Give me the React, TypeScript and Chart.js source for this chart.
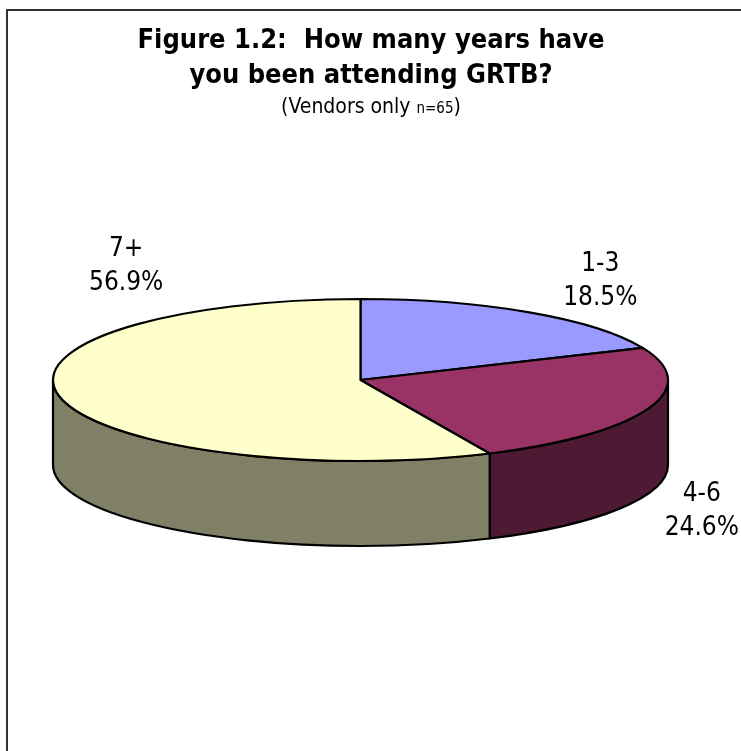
import React, { useEffect, useRef } from "react";
import { Chart, registerables } from "chart.js";

Chart.register(...registerables);

// ---- data ----
const categories = ["1-3", "4-6", "7+"];
const percents = [18.5, 24.6, 56.9];
const topColors = ["#9999FF", "#993366", "#FFFFCC"];
const sideColors = ["#4D4D80", "#4D1933", "#808066"];
const titleLines = ["Figure 1.2:  How many years have", "you been attending GRTB?"];
const subtitleMain = "(Vendors only ";
const subtitleSmall = "n=65";
const subtitleEnd = ")";

// ---- styling / layout constants ----
const TILT = 81 / 307.5;
const DEPTH = 85;
const FONT = "'DejaVu Sans Condensed', 'DejaVu Sans', sans-serif";
// label block centre offsets relative to the slice mid-point on the top rim
const labelOffsets = [
  [71, -31],
  [54, 102],
  [66, -131],
];

const pie3dPlugin = {
  id: "pie3d",
  beforeDraw(chart: any) {
    const ctx = chart.ctx;
    ctx.save();
    ctx.fillStyle = "#ffffff";
    ctx.fillRect(0, 0, chart.width, chart.height);
    ctx.restore();
  },
  beforeDatasetsDraw(chart: any) {
    const ctx: CanvasRenderingContext2D = chart.ctx;
    const arcs = chart.getDatasetMeta(0).data;
    if (!arcs.length) return false;
    ctx.save();
    ctx.lineWidth = 2.2;
    ctx.strokeStyle = "#000000";
    ctx.lineJoin = "round";
    // side walls (front half only)
    arcs.forEach((arc: any, i: number) => {
      const { x: cx, y: cy, startAngle, endAngle, outerRadius: r } = arc;
      const ry = r * TILT;
      const a0 = Math.max(startAngle, 0);
      const a1 = Math.min(endAngle, Math.PI);
      if (a1 <= a0) return;
      ctx.beginPath();
      ctx.ellipse(cx, cy, r, ry, 0, a0, a1, false);
      ctx.lineTo(cx + r * Math.cos(a1), cy + ry * Math.sin(a1) + DEPTH);
      ctx.ellipse(cx, cy + DEPTH, r, ry, 0, a1, a0, true);
      ctx.closePath();
      ctx.fillStyle = sideColors[i];
      ctx.fill();
      ctx.stroke();
    });
    // top faces
    arcs.forEach((arc: any, i: number) => {
      const { x: cx, y: cy, startAngle, endAngle, outerRadius: r } = arc;
      const ry = r * TILT;
      ctx.beginPath();
      ctx.moveTo(cx, cy);
      ctx.ellipse(cx, cy, r, ry, 0, startAngle, endAngle, false);
      ctx.closePath();
      ctx.fillStyle = topColors[i];
      ctx.fill();
      ctx.stroke();
    });
    ctx.restore();
    return false;
  },
  afterDraw(chart: any) {
    const ctx: CanvasRenderingContext2D = chart.ctx;
    const arcs = chart.getDatasetMeta(0).data;
    ctx.save();
    // frame
    ctx.fillStyle = "#333333";
    ctx.fillRect(6, 9, chart.width, 2);
    ctx.fillRect(6, 9, 2, chart.height);

    // title
    ctx.fillStyle = "#000000";
    ctx.textAlign = "center";
    ctx.textBaseline = "middle";
    ctx.font = `bold 27px ${FONT}`;
    const tx = 371;
    ctx.fillText(titleLines[0], tx, 41);
    ctx.fillText(titleLines[1], tx, 76);

    // subtitle with mixed sizes
    ctx.textBaseline = "alphabetic";
    ctx.textAlign = "left";
    const big = `21px ${FONT}`;
    const small = `15px ${FONT}`;
    ctx.font = big;
    const w1 = ctx.measureText(subtitleMain).width;
    const w3 = ctx.measureText(subtitleEnd).width;
    ctx.font = small;
    const w2 = ctx.measureText(subtitleSmall).width;
    let sx = tx - (w1 + w2 + w3) / 2;
    const sb = 113;
    ctx.font = big;
    ctx.fillText(subtitleMain, sx, sb);
    sx += w1;
    ctx.font = small;
    ctx.fillText(subtitleSmall, sx, sb);
    sx += w2;
    ctx.font = big;
    ctx.fillText(subtitleEnd, sx, sb);

    // data labels
    ctx.textAlign = "center";
    ctx.textBaseline = "middle";
    ctx.font = `26px ${FONT}`;
    arcs.forEach((arc: any, i: number) => {
      const { x: cx, y: cy, startAngle, endAngle, outerRadius: r } = arc;
      const ry = r * TILT;
      const mid = (startAngle + endAngle) / 2;
      const px = cx + r * Math.cos(mid) + labelOffsets[i][0];
      const py = cy + ry * Math.sin(mid) + labelOffsets[i][1];
      ctx.fillText(categories[i], px, py - 17);
      ctx.fillText(`${percents[i].toFixed(1)}%`, px, py + 17);
    });
    ctx.restore();
  },
};

export default function App() {
  const canvasRef = useRef<HTMLCanvasElement | null>(null);
  useEffect(() => {
    if (!canvasRef.current) return;
    const chart = new Chart(canvasRef.current, {
      type: "pie",
      data: {
        labels: categories,
        datasets: [
          {
            data: percents,
            backgroundColor: topColors,
            borderWidth: 0,
          },
        ],
      },
      options: {
        animation: false,
        responsive: true,
        maintainAspectRatio: false,
        rotation: 0,
        layout: { padding: { left: 53, right: 73, top: 72.5, bottom: 63.5 } },
        plugins: {
          legend: { display: false },
          tooltip: { enabled: false },
          title: { display: false },
        },
      },
      plugins: [pie3dPlugin],
    });
    return () => chart.destroy();
  }, []);
  return (
    <div style={{ position: "fixed", left: 0, top: 0, width: 741, height: 751, background: "#fff" }}>
      <canvas ref={canvasRef} />
    </div>
  );
}
